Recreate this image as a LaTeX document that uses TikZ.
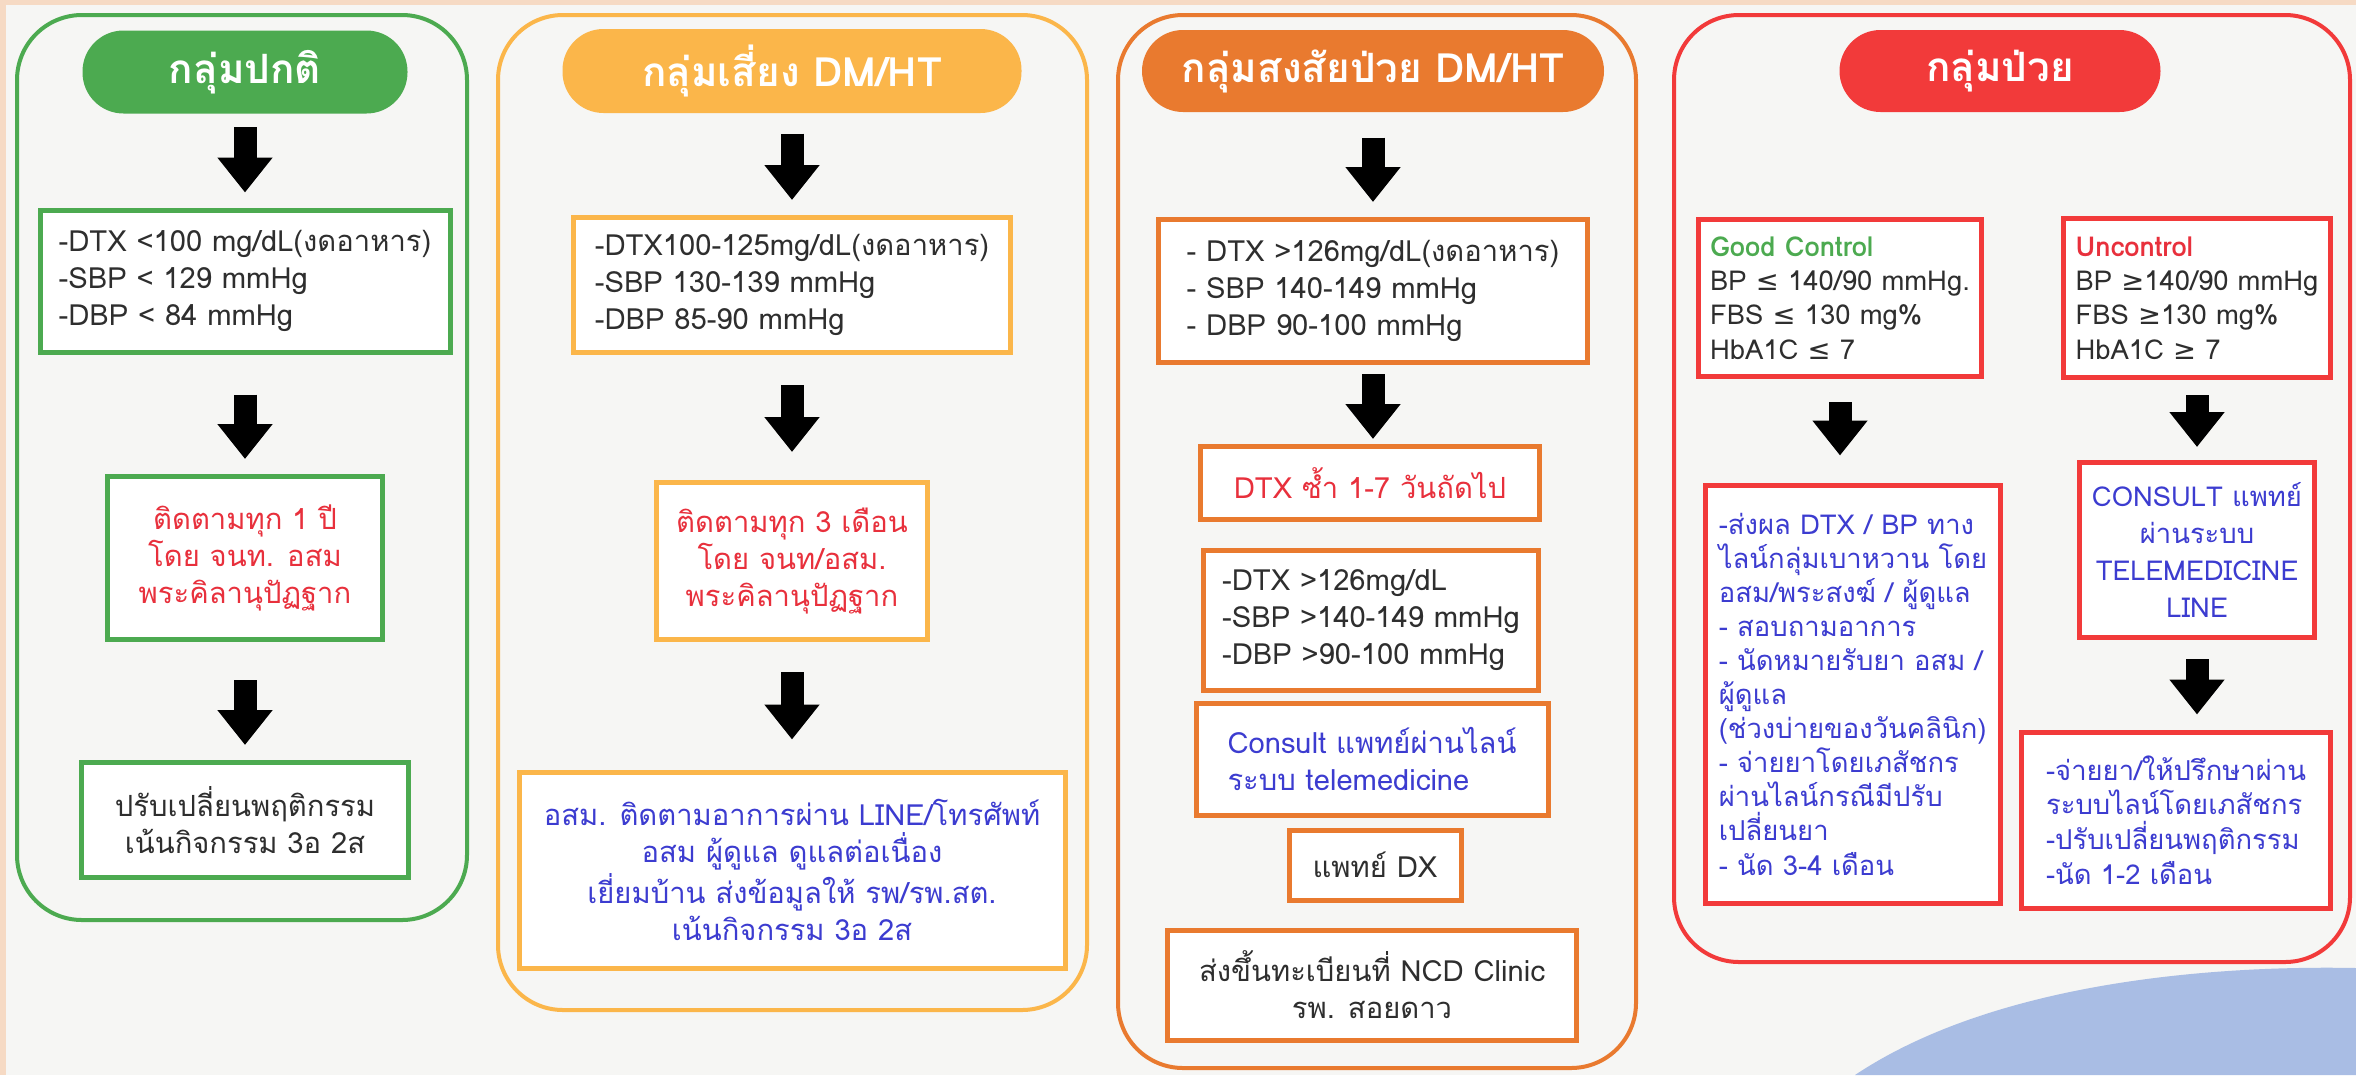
\documentclass[tikz,border=0pt]{standalone}
\usepackage{fontspec}
\setmainfont[Script=Thai]{Loma}
\newfontfamily\symfont{DejaVu Sans}
\usepackage{xcolor}
\usetikzlibrary{arrows.meta}
\definecolor{okgreen}{HTML}{4CAA50}
\definecolor{riskyellow}{HTML}{FBB64A}
\definecolor{susorange}{HTML}{E97A2F}
\definecolor{sickred}{HTML}{F23A3A}
\definecolor{txtblue}{HTML}{3C3CD0}
\definecolor{txtred}{HTML}{E8303C}
\definecolor{txtgray}{HTML}{2E2E2E}
\definecolor{pagebg}{HTML}{F6F6F4}
\definecolor{peach}{HTML}{F6DAC4}
\definecolor{wave}{HTML}{A9BDE4}

\begin{document}
\begin{tikzpicture}[x=0.1mm,y=-0.1mm,
  panel/.style={draw=#1,line width=0.4mm,rounded corners=6.5mm},
  pill/.style={fill=#1,rounded corners=4.1mm,text=white,inner sep=0pt,
    font=\fontsize{11.5}{14}\selectfont\bfseries},
  box/.style={draw=#1,line width=0.5mm,fill=white,inner xsep=1.2mm,inner ysep=0pt,
    text=txtgray,align=left,font=\fontsize{8.3}{10.5}\selectfont},
  blk/.style={line width=2.3mm,-{Triangle[length=3.5mm,width=5.3mm]},shorten >=1.5mm}]
\useasboundingbox (0,0) rectangle (2356,1075);
\fill[pagebg] (0,0) rectangle (2356,1075);
\fill[peach] (0,0) rectangle (2356,5);
\fill[peach] (0,0) rectangle (6,1075);
\fill[wave] (1855,1075) .. controls (1990,985) and (2200,965) .. (2356,968) -- (2356,1075) -- cycle;

% panels
\draw[panel=okgreen] (17,15) rectangle (467,920);
\draw[panel=riskyellow] (498,15) rectangle (1087,1010);
\draw[panel=susorange] (1118,15) rectangle (1636,1068);
\draw[panel=sickred] (1674,15) rectangle (2350,962);

% กลุ่มปกติ
\node[pill=okgreen,minimum width=32.5mm,minimum height=8.3mm] (pill1) at (245,72) {กลุ่มปกติ};
\node[box=okgreen,minimum width=41mm,minimum height=14.2mm] (ok1) at (245,281)
  {-DTX <100 mg/dL(งดอาหาร)\\-SBP < 129 mmHg\\-DBP < 84 mmHg};
\node[box=okgreen,minimum width=27.5mm,minimum height=16.3mm,align=center,text=txtred] (ok2) at (245,558)
  {ติดตามทุก 1 ปี\\โดย จนท. อสม\\พระคิลานุปัฏฐาก};
\node[box=okgreen,minimum width=32.7mm,minimum height=11.5mm,align=center] (ok3) at (245,820)
  {ปรับเปลี่ยนพฤติกรรม\\เน้นกิจกรรม 3อ 2ส};
\draw[blk,shorten <=1.3mm] (pill1) -- (ok1);
\draw[blk,shorten <=4mm] (ok1) -- (ok2);
\draw[blk,shorten <=3.8mm] (ok2) -- (ok3);

% กลุ่มเสี่ยง
\node[pill=riskyellow,minimum width=45.9mm,minimum height=8.4mm] (pill2) at (792,71) {กลุ่มเสี่ยง DM/HT};
\node[box=riskyellow,minimum width=43.7mm,minimum height=13.5mm] (risk1) at (792,285)
  {-DTX100-125mg/dL(งดอาหาร)\\-SBP 130-139 mmHg\\-DBP 85-90 mmHg};
\node[box=riskyellow,minimum width=27.1mm,minimum height=15.7mm,align=center,text=txtred] (risk2) at (792,561)
  {ติดตามทุก 3 เดือน\\โดย จนท/อสม.\\พระคิลานุปัฏฐาก};
\node[box=riskyellow,minimum width=54.6mm,minimum height=19.6mm,align=center,text=txtblue] (risk3) at (792,870)
  {อสม. ติดตามอาการผ่าน LINE/โทรศัพท์\\อสม ผู้ดูแล ดูแลต่อเนื่อง\\เยี่ยมบ้าน ส่งข้อมูลให้ รพ/รพ.สต.\\เน้นกิจกรรม 3อ 2ส};
\draw[blk,shorten <=2mm,shorten >=1.5mm] (pill2) -- (risk1);
\draw[blk,shorten <=3mm,shorten >=2.8mm] (risk1) -- (risk2);
\draw[blk,shorten <=3mm,shorten >=3mm] (risk2) -- (risk3);

% กลุ่มสงสัยป่วย
\node[pill=susorange,minimum width=46.2mm,minimum height=8.2mm] (pill3) at (1373,71) {กลุ่มสงสัยป่วย DM/HT};
\node[box=susorange,minimum width=42.9mm,minimum height=14.3mm] (sus1) at (1373,291)
  {- DTX >126mg/dL(งดอาหาร)\\- SBP 140-149 mmHg\\- DBP 90-100 mmHg};
\node[box=susorange,minimum width=33.9mm,minimum height=7.3mm,align=center,text=txtred] (sus2) at (1370,483)
  {DTX ซ้ำ 1-7 วันถัดไป};
\node[box=susorange,minimum width=33.5mm,minimum height=14mm] (sus3) at (1371,620)
  {-DTX >126mg/dL\\-SBP >140-149 mmHg\\-DBP >90-100 mmHg};
\node[box=susorange,minimum width=35.2mm,minimum height=11.2mm,text=txtblue] (sus4) at (1372,759)
  {Consult แพทย์ผ่านไลน์\\ระบบ telemedicine};
\node[box=susorange,minimum width=17.2mm,minimum height=7mm,align=center] (sus5) at (1375,865)
  {แพทย์ DX};
\node[box=susorange,minimum width=40.9mm,minimum height=11mm,align=center] (sus6) at (1372,985)
  {ส่งขึ้นทะเบียนที่ NCD Clinic\\รพ. สอยดาว};
\draw[blk,shorten <=2.5mm,shorten >=1.5mm] (pill3) -- (sus1);
\draw[blk,shorten <=0.9mm,shorten >=0.5mm] (sus1) -- (sus1 |- sus2.north);

% กลุ่มป่วย
\node[pill=sickred,minimum width=32.1mm,minimum height=8.2mm] (pill4) at (2000,71) {กลุ่มป่วย};
\node[box=sickred,minimum width=26.7mm,minimum height=15.7mm,font=\fontsize{7.8}{9.8}\selectfont] (gc1) at (1840,298)
  {{\color{okgreen}\bfseries Good Control}\\BP {\symfont ≤} 140/90 mmHg.\\FBS {\symfont ≤} 130 mg\%\\HbA1C {\symfont ≤} 7};
\node[box=sickred,minimum width=25.6mm,minimum height=15.9mm,font=\fontsize{7.8}{9.8}\selectfont] (uc1) at (2197,298)
  {{\color{txtred}\bfseries Uncontrol}\\BP {\symfont ≥}140/90 mmHg\\FBS {\symfont ≥}130 mg\%\\HbA1C {\symfont ≥} 7};
\node[box=sickred,minimum width=29.5mm,minimum height=41.8mm,text=txtblue,font=\fontsize{7.8}{9.7}\selectfont] (gc2) at (1853,694)
  {-ส่งผล DTX / BP ทาง\\ไลน์กลุ่มเบาหวาน โดย\\อสม/พระสงฆ์ / ผู้ดูแล\\- สอบถามอาการ\\- นัดหมายรับยา อสม /\\ผู้ดูแล\\(ช่วงบ่ายของวันคลินิก)\\- จ่ายยาโดยเภสัชกร\\ผ่านไลน์กรณีมีปรับ\\เปลี่ยนยา\\- นัด 3-4 เดือน};
\node[box=sickred,minimum width=23.1mm,minimum height=17.5mm,align=center,text=txtblue,font=\fontsize{7.8}{10.6}\selectfont] (uc2) at (2197,550)
  {CONSULT แพทย์\\ผ่านระบบ\\TELEMEDICINE\\LINE};
\node[box=sickred,minimum width=30.9mm,minimum height=17.6mm,text=txtblue,font=\fontsize{7.8}{9.9}\selectfont] (uc3) at (2176,820)
  {-จ่ายยา/ให้ปรึกษาผ่าน\\ระบบไลน์โดยเภสัชกร\\-ปรับเปลี่ยนพฤติกรรม\\-นัด 1-2 เดือน};
\draw[blk,shorten <=2.3mm,shorten >=2.7mm] (gc1) -- (gc1 |- gc2.north);
\draw[blk,shorten <=1.5mm,shorten >=1.3mm] (uc1) -- (uc2);
\draw[blk,shorten <=1.9mm,shorten >=1.5mm] (uc2) -- (uc2 |- uc3.north);
\end{tikzpicture}
\end{document}
